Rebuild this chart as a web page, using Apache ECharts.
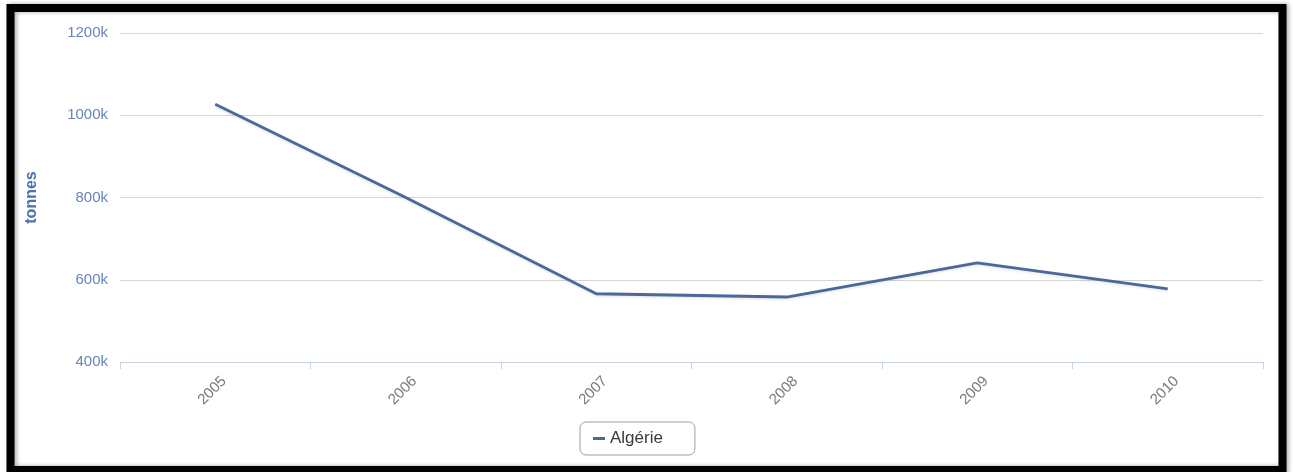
<!DOCTYPE html>
<html>
<head>
<meta charset="utf-8">
<script src="https://cdn.jsdelivr.net/npm/echarts@6/dist/echarts.min.js"></script>
<style>
  html, body { margin: 0; padding: 0; background: #ffffff; }
  #chart { width: 1293px; height: 472px; }
</style>
</head>
<body>
<div id="chart"></div>
<script>
// Annual tonnage, Algeria
const years = ['2005', '2006', '2007', '2008', '2009', '2010'];
const algerie = [1027000, 800000, 566000, 558000, 641000, 578000];
const seriesName = 'Algérie';
const yTicks = { min: 400000, max: 1200000, step: 200000 };
const yTitle = 'tonnes';

const chart = echarts.init(document.getElementById('chart'), null, { renderer: 'canvas' });
const font = '"Liberation Sans", Arial, sans-serif';

chart.setOption({
  animation: false,
  backgroundColor: '#ffffff',
  grid: { left: 120, right: 30, top: 33, bottom: 110 },
  legend: {
    data: [seriesName],
    left: 580,
    top: 422,
    icon: 'rect',
    itemWidth: 12,
    itemHeight: 3,
    itemGap: 5,
    padding: [8, 32, 8, 13],
    borderColor: '#a0a0a0',
    borderWidth: 1,
    borderRadius: 6,
    textStyle: { fontFamily: font, fontSize: 17, color: '#3a3a3a' }
  },
  xAxis: {
    type: 'category',
    data: years,
    boundaryGap: true,
    axisLine: { lineStyle: { color: '#c6d2e0', width: 1 } },
    axisTick: { show: true, length: 7, lineStyle: { color: '#c6d2e0' } },
    axisLabel: {
      rotate: 45,
      margin: 8,
      verticalAlign: 'top',
      padding: [5, 0, 0, 0],
      fontFamily: font,
      fontSize: 15,
      color: '#7a7a7a'
    },
    splitLine: { show: false }
  },
  yAxis: {
    type: 'value',
    min: yTicks.min,
    max: yTicks.max,
    interval: yTicks.step,
    name: yTitle,
    nameLocation: 'middle',
    nameGap: 80,
    nameRotate: 90,
    nameTextStyle: { fontFamily: font, fontSize: 16, fontWeight: 'bold', color: '#4f72aa' },
    axisLine: { show: false },
    axisTick: { show: false },
    axisLabel: {
      margin: 12,
      fontFamily: font,
      fontSize: 15,
      color: '#6585bb',
      formatter: v => (v / 1000) + 'k'
    },
    splitLine: { lineStyle: { color: '#d6d6d6', width: 1 } }
  },
  series: [{
    name: seriesName,
    type: 'line',
    data: algerie,
    symbol: 'none',
    lineStyle: {
      color: '#4a689b',
      width: 2.8,
      shadowColor: 'rgba(0,0,0,0.12)',
      shadowBlur: 3,
      shadowOffsetY: 1
    },
    itemStyle: { color: '#4a689b' }
  }],
  graphic: [{
    type: 'rect',
    z: 100,
    silent: true,
    shape: { x: 10.5, y: 8, width: 1272, height: 462 },
    style: {
      fill: 'none',
      stroke: '#000000',
      lineWidth: 8,
      shadowColor: 'rgba(0,0,0,0.35)',
      shadowBlur: 4,
      shadowOffsetX: 2
    }
  }]
});
</script>
</body>
</html>
